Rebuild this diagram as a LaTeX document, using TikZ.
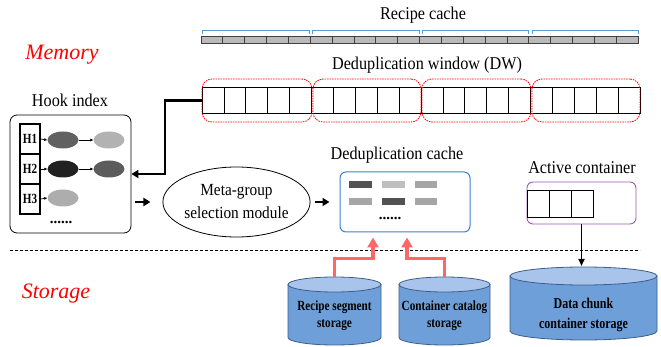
\documentclass[tikz,border=0pt]{standalone}
\usepackage{fontspec}
\setmainfont{Liberation Serif}[FakeStretch=0.9]
\newfontfamily\plainser{Liberation Serif}
\newfontfamily\condb{Liberation Serif}[FakeStretch=0.8]
\usetikzlibrary{arrows.meta,calc,shapes.geometric}
\definecolor{cylbody}{HTML}{6F9FD8}
\definecolor{cyltop}{HTML}{A9C4EA}
\definecolor{cylline}{HTML}{3B5E8C}
\definecolor{redarr}{HTML}{FF6666}
\definecolor{brblue}{HTML}{5B9BD5}
\definecolor{cacheblue}{HTML}{3C7FCF}
\definecolor{purp}{HTML}{9B59B6}
\newcommand\mycyl[5]{%
  \pgfmathsetmacro\rxx{(#2-#1)/2}%
  \filldraw[fill=cylbody,draw=cylline,line width=0.8pt] (#1,#3) -- (#1,#4)
    arc[start angle=180,end angle=360,x radius=\rxx pt,y radius=#5pt] -- (#2,#3) -- cycle;
  \filldraw[fill=cyltop,draw=cylline,line width=0.8pt] ({(#1+#2)/2},#3)
    ellipse[x radius=\rxx pt,y radius=#5pt];}
\begin{document}
\begin{tikzpicture}[x=1pt,y=-1pt,
  lbl/.style={font=\fontsize{18}{20}\selectfont,inner sep=0pt},
  side/.style={font=\plainser\itshape\fontsize{22}{24}\selectfont,text=red,inner sep=0pt},
  hcell/.style={draw,line width=1.2pt,minimum width=20pt,minimum height=30pt,inner sep=0pt,font=\condb\bfseries\fontsize{14}{16}\selectfont},
  ell/.style={ellipse,minimum width=31pt,minimum height=17pt,inner sep=0pt},
  smallarr/.style={-{Latex[length=3pt,width=3pt]},line width=0.7pt},
  thickarr/.style={-{Triangle[length=7pt,width=8pt]},line width=2.2pt},
  medarr/.style={-{Triangle[length=7pt,width=6pt]},line width=1.6pt},
  redarrow/.style={-{Triangle[length=10pt,width=11pt]},line width=3.5pt,draw=redarr,color=redarr},
  dwgroup/.style={draw=red,rounded corners=10pt,dash pattern=on 1.5pt off 1pt,line width=0.8pt,minimum width=110pt,minimum height=43pt,inner sep=0pt},
  cyltext/.style={align=center,font=\condb\bfseries\fontsize{14}{17}\selectfont,inner sep=0pt},
  dots/.style={font=\plainser\bfseries\fontsize{15}{15}\selectfont,inner sep=0pt}]
\useasboundingbox (0,0) rectangle (661,347);

% side labels
\node[side] (mem) at (62,55) {Memory};
\node[side] (sto) at (56,294) {Storage};

% recipe cache
\node[lbl] (rclbl) at (423,15) {Recipe cache};
\foreach \a/\b in {202/309,312/419,422/528,532/638}
  \draw[brblue,line width=0.9pt] (\a,34.5) |- (\b,30) -- (\b,34.5);
\foreach \i in {0,...,19}
  \draw[fill=black!27,draw=black!75,line width=0.8pt] ({201+\i*21.85},36) rectangle ++(21.85,7);

% deduplication window
\node[lbl] (dwlbl) at (427,65) {Deduplication window (DW)};
\foreach \i in {0,...,19}
  \draw[line width=0.8pt] ({202+\i*21.9},87) rectangle ++(21.9,26);
\node[dwgroup] (dw1) at (257,100.5) {};
\node[dwgroup,minimum width=108pt] (dw2) at (367,100.5) {};
\node[dwgroup,minimum width=109pt] (dw3) at (476.5,100.5) {};
\node[dwgroup,minimum width=108pt] (dw4) at (586,100.5) {};

% hook index
\node[lbl] (hooklbl) at (70,100) {Hook index};
\node[draw,rounded corners=7pt,line width=0.8pt,minimum width=121pt,minimum height=118pt] (hook) at (70.5,174) {};
\node[hcell] (h1) at (30,139) {H1};
\node[hcell] (h2) at (30,169) {H2};
\node[hcell] (h3) at (30,199) {H3};
\node[ell,fill=black!62] (e11) at (63,140) {};
\node[ell,fill=black!30] (e12) at (109,140) {};
\node[ell,fill=black!87] (e21) at (63,169) {};
\node[ell,fill=black!64] (e22) at (109,169) {};
\node[ell,fill=black!32] (e31) at (63,198) {};
\draw[smallarr] (h1.east) -- (e11.west);
\draw[smallarr] (e11.east) -- (e12.west);
\draw[smallarr] (h2.east) -- (e21.west);
\draw[smallarr] (e21.east) -- (e22.west);
\draw[smallarr] (h3.east) -- (e31.west);
\node[dots] (hdots) at (61,222) {......};

% DW -> hook index
\draw[thickarr] (dw1.west) -- ++(-37,0) |- (hook.east);

% meta-group selection module
\node[draw,ellipse,line width=0.8pt,minimum width=119pt,minimum height=70pt,inner sep=0pt,align=center,font=\fontsize{17}{23}\selectfont] (meta) at (236.5,202) {Meta-group\\selection module};
\draw[thickarr,shorten <=4pt,shorten >=12pt] (hook.east |- meta.west) -- (meta.west);

% deduplication cache
\node[lbl] (cachelbl) at (397,155) {Deduplication cache};
\node[draw=cacheblue,rounded corners=6pt,line width=1pt,minimum width=130pt,minimum height=60pt] (cache) at (405,202) {};
\fill[black!68] (349,181.5) rectangle (372,188);
\fill[black!25] (382,181.5) rectangle (405,188);
\fill[black!35] (415,181.5) rectangle (437,188);
\fill[black!35] (349,198.5) rectangle (372,205);
\fill[black!68] (382,198.5) rectangle (405,205);
\fill[black!35] (415,198.5) rectangle (437,205);
\node[dots] (cdots) at (390,218) {......};
\draw[thickarr,shorten <=4pt,shorten >=10pt] (meta.east |- cache.west) -- (cache.west);

% active container
\node[lbl] (actlbl) at (582,168) {Active container};
\node[draw=purp,rounded corners=6pt,line width=0.9pt,minimum width=109pt,minimum height=42pt] (active) at (581.5,203) {};
\foreach \i in {0,1,2}
  \draw[line width=0.8pt] ({527+\i*22},190) rectangle ++(22,27);

% dashed separator
\draw[dash pattern=on 3pt off 2pt,line width=0.8pt] (10,250) -- (640,250);

% storage cylinders
\mycyl{288}{381}{284.5}{337.5}{7.5}
\mycyl{399}{490}{284.5}{337.5}{7.5}
\mycyl{510}{657}{276}{331}{9}
\node[cyltext] (rss) at (334.5,316) {Recipe segment\\storage};
\node[cyltext] (ccs) at (444.5,316) {Container catalog\\storage};
\node[cyltext,font=\condb\bfseries\fontsize{15}{20}\selectfont] (dcs) at (583.5,315) {Data chunk\\container storage};
\coordinate (rstop) at (334.5,277);
\coordinate (cctop) at (444.5,277);
\coordinate (dctop) at (581.5,266);

% red arrows
\draw[redarrow,shorten >=5pt] (rstop) |- ($(cache.south)+(-32,26)$) -- ($(cache.south)+(-32,0)$);
\draw[redarrow,shorten >=5pt] (cctop) |- ($(cache.south)+(2,26)$) -- ($(cache.south)+(2,0)$);

% active -> data chunk
\draw[medarr] (active.south) -- (dctop);
\end{tikzpicture}
\end{document}
